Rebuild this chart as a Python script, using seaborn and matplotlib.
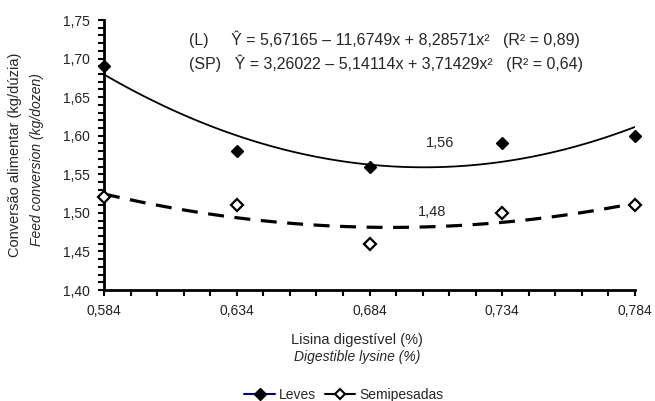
import numpy as np
import pandas as pd
import seaborn as sns
from matplotlib import pyplot as plt
from matplotlib.lines import Line2D
from matplotlib.ticker import FixedLocator, FuncFormatter

# data
lisina = [0.584, 0.634, 0.684, 0.734, 0.784]
leves = [1.69, 1.58, 1.56, 1.59, 1.60]
semipesadas = [1.52, 1.51, 1.46, 1.50, 1.51]
x_ticks = [0.584, 0.634, 0.684, 0.734, 0.784]
y_ticks = [1.40, 1.45, 1.50, 1.55, 1.60, 1.65, 1.70, 1.75]
eq_L = "(L)     \u0176 = 5,67165 \u2013 11,6749x + 8,28571x\u00b2   (R\u00b2 = 0,89)"
eq_SP = "(SP)   \u0176 = 3,26022 \u2013 5,14114x + 3,71429x\u00b2   (R\u00b2 = 0,64)"
min_L = "1,56"
min_SP = "1,48"

sns.set_style("ticks")
plt.rcParams['font.family'] = ['Liberation Sans', 'DejaVu Sans']

df = pd.DataFrame({'lisina': lisina, 'Leves': leves, 'Semipesadas': semipesadas})

fig = plt.figure(figsize=(6.55, 4.01), dpi=100)
ax = fig.add_axes([0.1588, 0.2768, 0.8107, 0.6732])

# quadratic fits
sns.regplot(data=df, x='lisina', y='Leves', order=2, ci=None, scatter=False,
            color='black', line_kws=dict(lw=1.3), ax=ax)
sns.regplot(data=df, x='lisina', y='Semipesadas', order=2, ci=None, scatter=False,
            color='black', line_kws=dict(lw=2.3, ls=(0, (5, 3.3))), ax=ax)

# observed means
ax.plot(df['lisina'], df['Leves'], ls='none', marker='D', ms=6.5,
        mfc='black', mec='black', clip_on=False, zorder=5)
ax.plot(df['lisina'], df['Semipesadas'], ls='none', marker='D', ms=6,
        mfc='white', mec='black', mew=1.6, clip_on=False, zorder=5)

ax.set_xlim(0.584, 0.784)
ax.set_ylim(1.40, 1.75)
ax.set_xticks(x_ticks)
ax.set_yticks(y_ticks)
ax.xaxis.set_minor_locator(FixedLocator(np.round(np.arange(0.584, 0.7845, 0.01), 3)))
ax.yaxis.set_minor_locator(FixedLocator(np.round(np.arange(1.40, 1.7505, 0.01), 2)))
ax.xaxis.set_major_formatter(FuncFormatter(lambda v, p: f"{v:.3f}".replace('.', ',')))
ax.yaxis.set_major_formatter(FuncFormatter(lambda v, p: f"{v:.2f}".replace('.', ',')))
ax.tick_params(which='both', direction='out', length=4, width=1.5, color='black',
               labelsize=10, labelcolor='#222222', pad=6)
for s in ['left', 'bottom']:
    ax.spines[s].set_linewidth(2)
    ax.spines[s].set_color('black')
sns.despine(ax=ax)
ax.set_xlabel('')
ax.set_ylabel('')

# annotations
ax.text(0.16, 0.93, eq_L, transform=ax.transAxes, fontsize=11.5, va='center')
ax.text(0.16, 0.84, eq_SP, transform=ax.transAxes, fontsize=11.5, va='center')
ax.text(0.7106, 1.590, min_L, fontsize=10.5, ha='center', va='center')
ax.text(0.7075, 1.501, min_SP, fontsize=10.5, ha='center', va='center')

# axis titles (two lines each, second in italics)
fig.text(0.023, 0.615, 'Conversão alimentar (kg/dúzia)', rotation=90,
         ha='center', va='center', fontsize=10.5)
fig.text(0.057, 0.603, 'Feed conversion (kg/dozen)', rotation=90,
         ha='center', va='center', fontsize=10, style='italic')
fig.text(0.545, 0.152, 'Lisina digestível (%)', ha='center', va='center', fontsize=10.5)
fig.text(0.545, 0.110, 'Digestible lysine (%)', ha='center', va='center',
         fontsize=10, style='italic')

handles = [
    Line2D([], [], color='#000080', lw=1.5, marker='D', ms=6, mfc='black', mec='black'),
    Line2D([], [], color='black', lw=1.5, marker='D', ms=5.5, mfc='white', mec='black', mew=1.5),
]
fig.legend(handles, ['Leves', 'Semipesadas'], loc='center', bbox_to_anchor=(0.525, 0.015),
           ncol=2, frameon=False, fontsize=10, handlelength=2.2, handletextpad=0.3,
           columnspacing=0.6)

fig.savefig('out.png', dpi=100)
